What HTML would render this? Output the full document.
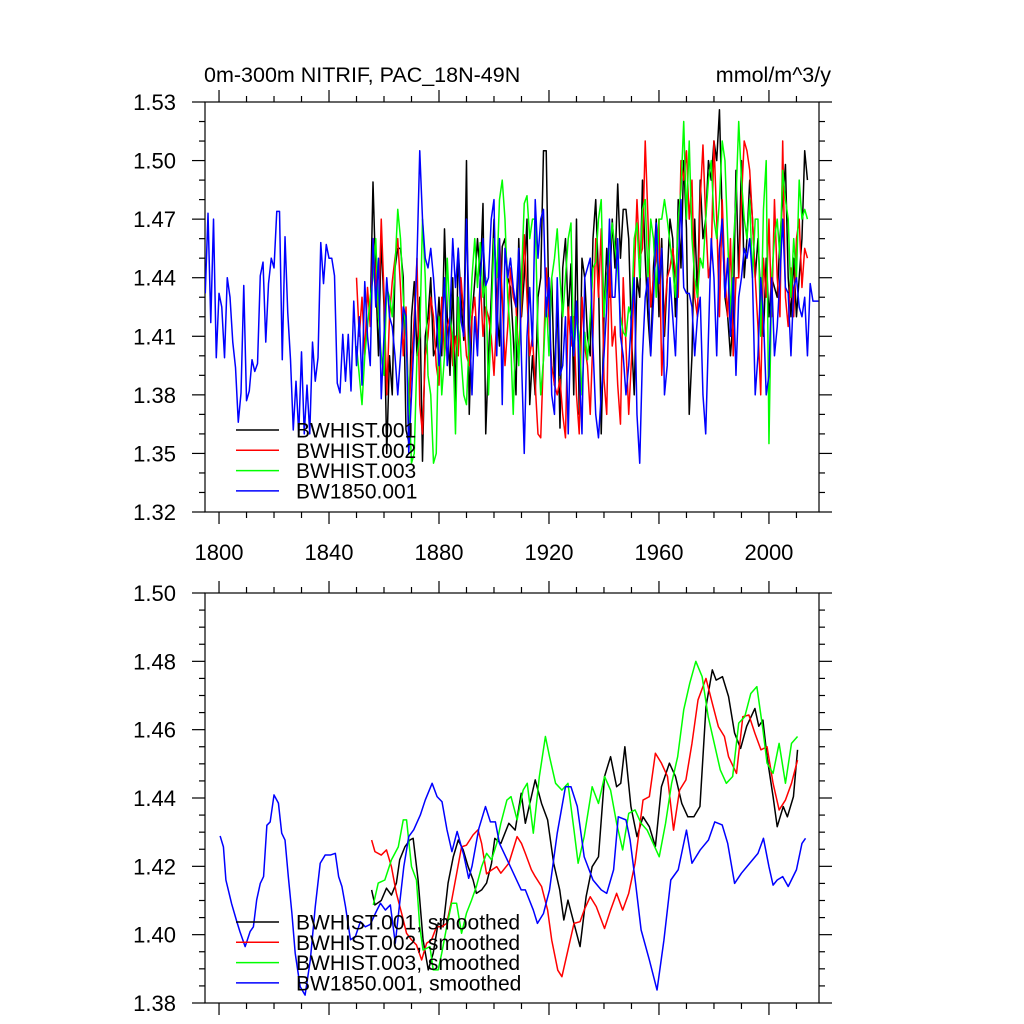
<!DOCTYPE html>
<html><head><meta charset="utf-8"><style>
html,body{margin:0;padding:0;background:#fff;}
svg{display:block;font-family:"Liberation Sans",sans-serif;}
</style></head><body>
<svg id="chart" width="1024" height="1024" viewBox="0 0 1024 1024" xmlns="http://www.w3.org/2000/svg">
<rect width="1024" height="1024" fill="#fff"/>
<defs>
<clipPath id="c1"><rect x="205" y="102" width="614" height="410"/></clipPath>
<clipPath id="c2"><rect x="205" y="593" width="614" height="410"/></clipPath>
</defs>
<text x="204" y="82" font-size="21.5">0m-300m NITRIF, PAC_18N-49N</text>
<text x="831" y="82" font-size="21.5" text-anchor="end">mmol/m^3/y</text>
<g id="top"></g>
<g id="bot"></g>
</svg>
<script>
const xTicks=[1800,1840,1880,1920,1960,2000];
const topYTicks=[1.32,1.35,1.38,1.41,1.44,1.47,1.50,1.53];
const botYTicks=[1.38,1.40,1.42,1.44,1.46,1.48,1.50];
const seriesNames=["BWHIST.001","BWHIST.002","BWHIST.003","BW1850.001"];
const colors=["#000","#f00","#0f0","#00f"];
const h1Start=1855;
const h1=[1.420,1.489,1.440,1.400,1.460,1.425,1.350,1.400,1.380,1.445,1.455,1.455,1.440,1.362,1.356,1.420,1.438,1.400,1.430,1.346,1.410,1.420,1.440,1.400,1.405,1.430,
1.400,1.465,1.420,1.390,1.440,1.375,1.455,1.430,1.408,1.500,1.370,1.420,1.438,1.460,1.440,1.478,1.360,1.400,1.430,1.470,
1.425,1.405,1.456,1.460,1.440,1.435,1.410,1.380,1.460,1.420,1.440,1.470,1.375,1.400,1.380,1.430,1.440,1.505,1.505,1.420,
1.440,1.385,1.430,1.363,1.445,1.460,1.420,1.447,1.380,1.470,1.370,1.450,1.440,1.410,1.400,1.460,1.480,1.440,1.360,1.420,
1.455,1.430,1.470,1.445,1.488,1.450,1.475,1.475,1.460,1.410,1.380,1.440,1.430,1.490,1.450,1.420,1.400,1.445,1.470,1.420,
1.460,1.410,1.440,1.470,1.460,1.420,1.480,1.445,1.500,1.465,1.370,1.400,1.470,1.430,1.490,1.460,1.470,1.500,1.490,1.510,
1.500,1.526,1.470,1.430,1.420,1.400,1.420,1.495,1.440,1.500,1.440,1.460,1.490,1.470,1.440,1.460,1.430,1.410,1.450,1.420,
1.440,1.435,1.430,1.460,1.480,1.498,1.440,1.420,1.450,1.420,1.440,1.460,1.505,1.490];
const h2Start=1850;
const h2=[1.440,1.410,1.430,1.400,1.435,1.415,1.460,1.440,1.420,1.470,1.432,1.380,1.420,1.438,1.450,1.460,1.435,1.400,1.425,1.370,
1.395,1.420,1.450,1.375,1.360,1.400,1.410,1.430,1.420,1.395,1.385,1.430,1.400,1.415,1.420,1.395,1.410,1.400,1.440,1.420,
1.400,1.395,1.420,1.430,1.405,1.440,1.410,1.425,1.420,1.410,1.390,1.420,1.460,1.430,1.395,1.415,1.445,1.430,1.425,1.400,
1.425,1.462,1.430,1.400,1.410,1.385,1.360,1.358,1.400,1.445,1.420,1.395,1.385,1.380,1.388,1.370,1.358,1.425,1.405,1.420,
1.380,1.360,1.430,1.405,1.395,1.370,1.410,1.460,1.430,1.465,1.388,1.370,1.450,1.405,1.415,1.385,1.365,1.440,1.405,1.370,
1.398,1.440,1.480,1.450,1.455,1.510,1.470,1.425,1.440,1.450,1.470,1.390,1.420,1.440,1.445,1.455,1.442,1.430,1.500,1.490,
1.505,1.470,1.490,1.430,1.420,1.480,1.508,1.470,1.440,1.450,1.510,1.470,1.420,1.480,1.440,1.420,1.460,1.400,1.440,1.440,
1.480,1.510,1.505,1.495,1.470,1.440,1.415,1.380,1.450,1.430,1.470,1.420,1.480,1.440,1.420,1.510,1.430,1.415,1.445,1.420,
1.460,1.470,1.435,1.455,1.450];
const h3Start=1850;
const h3=[1.405,1.390,1.375,1.400,1.415,1.430,1.440,1.460,1.420,1.400,1.390,1.435,1.430,1.420,1.445,1.475,1.460,1.430,1.410,1.380,
1.345,1.350,1.400,1.410,1.470,1.440,1.390,1.380,1.345,1.350,1.420,1.380,1.400,1.450,1.420,1.410,1.360,1.430,1.400,1.380,
1.375,1.410,1.440,1.460,1.435,1.458,1.430,1.440,1.380,1.420,1.460,1.440,1.480,1.490,1.470,1.430,1.410,1.370,1.420,1.395,
1.440,1.478,1.482,1.460,1.470,1.470,1.410,1.380,1.398,1.430,1.400,1.440,1.450,1.465,1.440,1.420,1.440,1.460,1.468,1.400,
1.420,1.410,1.380,1.412,1.398,1.420,1.445,1.448,1.470,1.480,1.420,1.440,1.450,1.468,1.455,1.445,1.420,1.412,1.410,1.425,
1.420,1.460,1.468,1.440,1.475,1.480,1.440,1.470,1.460,1.430,1.470,1.470,1.480,1.470,1.458,1.445,1.430,1.470,1.485,1.520,
1.470,1.510,1.460,1.440,1.430,1.450,1.445,1.470,1.490,1.500,1.470,1.460,1.480,1.510,1.500,1.460,1.420,1.455,1.480,1.520,
1.490,1.470,1.460,1.480,1.440,1.470,1.470,1.410,1.475,1.500,1.355,1.440,1.460,1.470,1.450,1.495,1.480,1.470,1.430,1.460,
1.440,1.490,1.470,1.475,1.470];
const c1Start=1795;
const c1=[1.432,1.473,1.417,1.470,1.399,1.432,1.425,1.399,1.440,1.430,1.407,1.394,1.366,1.381,1.436,1.377,1.382,1.398,1.392,1.396,1.441,1.448,1.407,1.437,1.450,1.445,1.474,1.474,1.398,1.461,1.422,1.398,1.362,1.387,1.360,1.402,1.360,1.385,1.360,1.407,1.387,1.399,1.458,1.437,1.457,1.450,1.450,1.441,1.386,1.381,1.411,1.387,1.411,1.382,1.428,
1.395,1.420,1.385,1.438,1.410,1.395,1.460,1.425,1.450,1.378,1.410,1.440,1.420,1.415,1.400,1.380,1.400,1.425,1.420,1.350,1.380,1.410,1.450,1.505,1.470,1.450,1.445,1.455,1.440,1.420,
1.395,1.410,1.440,1.395,1.420,1.460,1.435,1.455,1.418,1.410,1.470,1.420,1.380,1.420,1.400,1.440,1.460,1.436,1.440,1.470,
1.480,1.400,1.460,1.375,1.455,1.440,1.450,1.435,1.425,1.455,1.398,1.350,1.410,1.435,1.405,1.480,1.450,1.470,1.475,1.420,
1.440,1.380,1.370,1.440,1.390,1.395,1.420,1.360,1.420,1.400,1.428,1.395,1.360,1.440,1.445,1.450,1.405,1.370,1.358,1.380,
1.400,1.425,1.470,1.430,1.430,1.460,1.410,1.400,1.380,1.395,1.420,1.440,1.370,1.345,1.400,1.430,1.440,1.400,1.428,1.468,
1.437,1.455,1.380,1.395,1.440,1.420,1.400,1.445,1.480,1.435,1.432,1.432,1.425,1.400,1.420,1.430,1.380,1.360,1.410,1.460,
1.440,1.400,1.455,1.470,1.430,1.450,1.410,1.440,1.390,1.430,1.440,1.455,1.450,1.460,1.440,1.380,1.400,1.440,1.420,1.380,
1.390,1.440,1.400,1.415,1.440,1.470,1.435,1.432,1.400,1.435,1.440,1.425,1.420,1.430,1.400,1.437,1.428,1.428,1.428];
const s1Years=[1855.5,1856.7,1859,1860.9,1862.7,1864.5,1865.7,1867.6,1869.4,1870.6,1872.4,1874.2,1876.1,1877.9,1879.7,1881.5,1883.3,1885.2,1887,1888.8,1890.6,1892.4,1893.6,1895.5,1897.3,1899.1,1900.3,1902.5,1905.4,1907.7,1909.9,1911.4,1913.6,1915,1917.3,1919.5,1921.7,1923.9,1925.4,1926.9,1929.1,1931.3,1933.5,1935.7,1938,1940.2,1942.4,1944.6,1946.1,1947.6,1949.8,1952,1954.2,1956.5,1958.7,1960.9,1963.8,1966,1968.3,1970.5,1972.7,1974.9,1977.1,1979.4,1980.8,1983.1,1985.3,1987.5,1989.7,1991.9,1994.9,1996.3,1997.8,1999.3,2001.5,2003,2005.2,2006.7,2008.9,2010.4];
const s1Vals=[1.4131,1.4087,1.4100,1.4136,1.4116,1.4151,1.4219,1.4257,1.4277,1.4282,1.4160,1.3985,1.3897,1.3946,1.4034,1.4023,1.4151,1.4228,1.4277,1.4248,1.4199,1.4160,1.4121,1.4131,1.4151,1.4209,1.4282,1.4267,1.4326,1.4306,1.4414,1.4326,1.4404,1.4453,1.4384,1.4336,1.4209,1.4131,1.4043,1.4101,1.4033,1.3965,1.4111,1.4199,1.4228,1.4463,1.4521,1.4433,1.4443,1.4550,1.4375,1.4287,1.4345,1.4316,1.4258,1.4433,1.4502,1.4463,1.4384,1.4345,1.4345,1.4375,1.4667,1.4775,1.4745,1.4755,1.4697,1.4590,1.4545,1.4610,1.4662,1.4610,1.4628,1.4521,1.4404,1.4316,1.4375,1.4345,1.4404,1.4541];
const s2Years=[1855.5,1856.7,1859,1860.9,1862.7,1864.5,1866.4,1868.2,1870,1871.8,1873.7,1875.5,1877.3,1879.1,1881,1882.8,1884.6,1886.4,1888.2,1890,1892.4,1894.2,1895.5,1897.3,1899.1,1901,1902.5,1905.4,1908.4,1910,1911.4,1913.6,1915,1917.3,1919.5,1921,1923.2,1924.7,1926.9,1929.1,1931.3,1932.8,1935,1937.2,1940.2,1942.4,1944.6,1946.8,1949,1951.3,1954.2,1956.5,1958.7,1960.9,1963.1,1965.3,1967.5,1969.8,1972,1974.2,1977.1,1979.4,1981.6,1983.8,1985.3,1988.2,1990.5,1992.7,1994.9,1997.1,1999.3,2001.5,2003.7,2006,2008.2,2010.4];
const s2Vals=[1.4277,1.4243,1.4233,1.4248,1.4199,1.4121,1.4063,1.4004,1.3985,1.3970,1.3926,1.3975,1.3985,1.4023,1.4023,1.4033,1.4100,1.4178,1.4257,1.4262,1.4292,1.4307,1.4267,1.4178,1.4189,1.4199,1.4180,1.4209,1.4287,1.4267,1.4238,1.4190,1.4170,1.4141,1.4072,1.3984,1.3896,1.3877,1.3955,1.4033,1.4038,1.4072,1.4111,1.4082,1.4018,1.4072,1.4121,1.4072,1.4121,1.4209,1.4394,1.4404,1.4531,1.4502,1.4463,1.4306,1.4423,1.4453,1.4560,1.4687,1.4750,1.4677,1.4609,1.4580,1.4521,1.4472,1.4638,1.4643,1.4589,1.4541,1.4550,1.4443,1.4365,1.4394,1.4443,1.4511];
const s3Years=[1856.1,1857.9,1860.3,1862.7,1865.2,1867,1868.2,1870,1871.8,1873,1874.2,1876.7,1877.9,1879.7,1881,1882.8,1884.6,1886.4,1888.2,1890,1891.8,1893.6,1895.5,1897.3,1899.1,1901,1902.5,1904.7,1906.2,1908.4,1910.6,1912.1,1914.3,1916.5,1918.7,1920.2,1922.4,1924.7,1926.9,1929.1,1930.6,1932.8,1935.7,1938,1940.2,1942.4,1944.6,1946.8,1949,1951.3,1953.5,1955.7,1957.9,1960.1,1962.4,1964.6,1966.8,1969,1971.2,1973.4,1975.7,1977.9,1980.1,1982.3,1984.5,1986.8,1989,1991.2,1993.4,1995.6,1997.8,1999.3,2001.5,2003.7,2006,2008.2,2010.4];
const s3Vals=[1.4087,1.4151,1.4160,1.4219,1.4257,1.4336,1.4336,1.4199,1.4160,1.4023,1.3955,1.3965,1.3897,1.3897,1.3946,1.4023,1.4092,1.4092,1.4004,1.4063,1.4100,1.4141,1.4199,1.4238,1.4219,1.4267,1.4326,1.4394,1.4404,1.4336,1.4423,1.4443,1.4297,1.4463,1.4580,1.4521,1.4443,1.4423,1.4443,1.4306,1.4209,1.4287,1.4433,1.4384,1.4463,1.4423,1.4326,1.4248,1.4355,1.4365,1.4326,1.4306,1.4267,1.4228,1.4326,1.4443,1.4521,1.4658,1.4736,1.4800,1.4755,1.4638,1.4560,1.4482,1.4443,1.4463,1.4619,1.4638,1.4706,1.4726,1.4600,1.4502,1.4472,1.4560,1.4443,1.4560,1.4580];
const s4Years=[1800.4,1801.6,1802.5,1804.6,1806.4,1807.6,1809.5,1811.3,1812.5,1813.7,1815,1816.2,1817.4,1818.6,1820,1821.6,1822.8,1824,1825.2,1826.5,1827.7,1829.5,1831.3,1833.2,1835,1836.8,1838.6,1840.5,1842.3,1843.5,1844.7,1846,1847.8,1849.6,1851.4,1853.2,1855,1856.9,1858.7,1860.5,1862.3,1864.1,1865.3,1867.2,1869,1870.8,1873.2,1875,1877.5,1879.3,1881.1,1882.9,1884.7,1886.6,1889,1890.8,1892,1894.5,1896.9,1898.7,1900.5,1902,1905.4,1909.9,1911.4,1914.3,1915.8,1918,1920.2,1923,1926,1928,1930.3,1932.8,1936,1939,1941,1943.5,1945.2,1948,1949.5,1951.5,1953.5,1956.5,1959.3,1961.8,1964.3,1967,1970,1972,1975,1978,1980.3,1983,1985,1987.5,1990,1993,1996,1998,2000,2001.5,2003,2005,2007,2010,2012,2013.3];
const s4Vals=[1.4289,1.4257,1.4160,1.4090,1.4040,1.4009,1.3965,1.4009,1.4023,1.4102,1.4150,1.4170,1.4320,1.4330,1.4409,1.4385,1.4297,1.4277,1.4170,1.4063,1.3946,1.3848,1.3823,1.3926,1.4082,1.4209,1.4233,1.4233,1.4238,1.4170,1.4141,1.4082,1.3985,1.3995,1.4038,1.4023,1.4030,1.4063,1.4092,1.4072,1.4087,1.3975,1.4063,1.4199,1.4287,1.4307,1.4350,1.4394,1.4443,1.4404,1.4389,1.4307,1.4243,1.4302,1.4233,1.4165,1.4200,1.4311,1.4375,1.4330,1.4330,1.4267,1.4209,1.4131,1.4131,1.4072,1.4033,1.4062,1.4131,1.4297,1.4433,1.4433,1.4375,1.4228,1.4160,1.4131,1.4121,1.4190,1.4345,1.4336,1.4277,1.4150,1.4014,1.3926,1.3838,1.3984,1.4160,1.4190,1.4306,1.4209,1.4248,1.4277,1.4330,1.4321,1.4267,1.4150,1.4180,1.4209,1.4238,1.4282,1.4199,1.4145,1.4160,1.4170,1.4141,1.4190,1.4267,1.4282];

const NS="http://www.w3.org/2000/svg";
const X0=205,X1=819,YR0=1794.9,YR1=2018.2;
function xs(yr){return X0+(yr-YR0)/(YR1-YR0)*(X1-X0);}
function mk(tag,attrs,parent){const e=document.createElementNS(NS,tag);for(const k in attrs)e.setAttribute(k,attrs[k]);parent.appendChild(e);return e;}

function panel(g,top,bot,ymin,ymax,yTicks,minorStep,clip,lines,legendY,legendSuffix,showXLabels,dec){
  const ys=v=>bot-(v-ymin)/(ymax-ymin)*(bot-top);
  const ax=mk('g',{stroke:'#000','stroke-width':'1.2',fill:'none'},g);
  
  
  mk('rect',{x:X0,y:top,width:X1-X0,height:bot-top},ax);
  const nMinor=Math.round((ymax-ymin)/minorStep);
  for(let i=0;i<=nMinor;i++){
    const v=ymin+i*minorStep;const y=ys(v);
    const major=yTicks.some(t=>Math.abs(t-v)<1e-6);
    const L=major?13:6;
    mk('line',{x1:X0,x2:X0-L,y1:y,y2:y},ax);
    mk('line',{x1:X1,x2:X1+L,y1:y,y2:y},ax);
  }
  for(let yr=1800;yr<=2010;yr+=10){
    const x=xs(yr);const major=xTicks.includes(yr);const L=major?12:6;
    mk('line',{x1:x,x2:x,y1:bot,y2:bot+L},ax);
    mk('line',{x1:x,x2:x,y1:top,y2:top-L},ax);
  }
  yTicks.forEach(t=>{
    const tx=mk('text',{x:176,y:ys(t)+8,'font-size':22,'text-anchor':'end',fill:'#000'},g);
    
    
    tx.textContent=t.toFixed(dec);
  });
  if(showXLabels){xTicks.forEach(t=>{
    const tx=mk('text',{x:xs(t),y:bot+48,'font-size':22,'text-anchor':'middle',fill:'#000'},g);
    
    
    tx.textContent=t;
  });}
  const lg=mk('g',{'clip-path':'url(#'+clip+')'},g);
  lines.forEach((ln,i)=>{
    const pts=ln.years.map((yr,j)=>xs(yr).toFixed(2)+','+ys(ln.vals[j]).toFixed(2)).join(' ');
    const p=mk('polyline',{points:pts,fill:'none',stroke:colors[i],'stroke-width':'1.5','stroke-linejoin':'round'},lg);
    
    
  });
  seriesNames.forEach((n,i)=>{
    const y=legendY+i*20.3;
    const l=mk('line',{x1:236,x2:279,y1:y,y2:y,stroke:colors[i],'stroke-width':'1.5'},g);
    
    
    const t=mk('text',{x:296,y:y+7.5,'font-size':21,fill:'#000'},g);
    
    
    t.textContent=n+legendSuffix;
  });
}
function annual(start,vals){return {years:vals.map((_,i)=>start+i),vals:vals};}
panel(document.getElementById('top'),102,512,1.32,1.53,topYTicks,0.01,'c1',
  [annual(h1Start,h1),annual(h2Start,h2),annual(h3Start,h3),annual(c1Start,c1)],430,'',true,2);
panel(document.getElementById('bot'),593,1003,1.38,1.50,botYTicks,0.005,'c2',
  [{years:s1Years,vals:s1Vals},{years:s2Years,vals:s2Vals},{years:s3Years,vals:s3Vals},{years:s4Years,vals:s4Vals}],922,', smoothed',false,2);
</script>
</body></html>
